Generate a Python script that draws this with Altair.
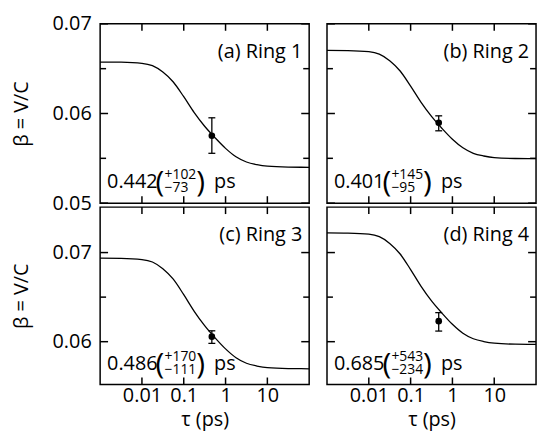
import altair as alt
import pandas as pd

FONT = "Open Sans"

# ---- data ----
tau_curve = [0.001, 0.00316, 0.01, 0.0178, 0.0316, 0.0562, 0.1, 0.178, 0.316, 0.562,
             1, 1.78, 3.16, 5.62, 10, 31.6, 100]
beta_a = [0.06574, 0.06572, 0.06560, 0.06533, 0.06462, 0.06351, 0.06187, 0.06010, 0.05858,
          0.05729, 0.05611, 0.05517, 0.05459, 0.05429, 0.05412, 0.05402, 0.05400]
beta_b = [0.06704, 0.06702, 0.06690, 0.06662, 0.06589, 0.06474, 0.06305, 0.06124, 0.05967,
          0.05834, 0.05713, 0.05617, 0.05556, 0.05526, 0.05508, 0.05498, 0.05496]
beta_c = [0.06937, 0.06935, 0.06922, 0.06894, 0.06819, 0.06701, 0.06527, 0.06341, 0.06180,
          0.06043, 0.05919, 0.05820, 0.05758, 0.05727, 0.05708, 0.05698, 0.05696]
beta_d = [0.07222, 0.07219, 0.07207, 0.07178, 0.07103, 0.06984, 0.06809, 0.06621, 0.06458,
          0.06321, 0.06195, 0.06095, 0.06033, 0.06001, 0.05983, 0.05972, 0.05970]
curves = [beta_a, beta_b, beta_c, beta_d]

tau_point = 0.47
beta_point = [0.05752, 0.05896, 0.06056, 0.06230]
beta_lo = [0.05556, 0.05807, 0.05981, 0.06119]
beta_hi = [0.05952, 0.05974, 0.06122, 0.06326]

panel_labels = ["(a) Ring 1", "(b) Ring 2", "(c) Ring 3", "(d) Ring 4"]
fit_value = ["0.442", "0.401", "0.486", "0.685"]
fit_plus = ["+102", "+145", "+170", "+543"]
fit_minus = ["\u221273", "\u221295", "\u2212111", "\u2212234"]

x_domain = [0.001, 100]
x_ticks = [0.01, 0.1, 1, 10]
y_domain_top = [0.05, 0.07]
y_domain_bottom = [0.0552, 0.0751]
y_major_top = [0.05, 0.06, 0.07]
y_minor_top = [0.055, 0.065]
y_major_bottom = [0.06, 0.07]
y_minor_bottom = [0.065]

W = 211


def make_panel(i):
    row, col = divmod(i, 2)
    H = 181 if row == 0 else 179
    ydom = y_domain_top if row == 0 else y_domain_bottom
    ymaj = y_major_top if row == 0 else y_major_bottom
    ymin = y_minor_top if row == 0 else y_minor_bottom

    if row == 1:
        x_axis = alt.Axis(values=x_ticks, format="~g", ticks=False, domain=False, grid=False,
                          labelFontSize=20, labelFont=FONT, labelPadding=1, labelColor="black",
                          title="\u03c4 (ps)", titleFontSize=20, titleFont=FONT,
                          titleFontWeight="normal", titlePadding=4, titleColor="black")
    else:
        x_axis = None
    if col == 0:
        y_axis = alt.Axis(values=ymaj, format=".2f", ticks=False, domain=False, grid=False,
                          labelFontSize=20, labelFont=FONT, labelPadding=9, labelColor="black",
                          title="\u03b2 = V/C", titleFontSize=20, titleFont=FONT,
                          titleFontWeight="normal", titlePadding=21, titleColor="black")
    else:
        y_axis = None

    def X(f):
        return alt.X(f"{f}:Q", scale=alt.Scale(type="log", domain=x_domain), axis=x_axis)

    def Y(f):
        return alt.Y(f"{f}:Q", scale=alt.Scale(domain=ydom, zero=False, nice=False), axis=y_axis)

    curve_df = pd.DataFrame({"tau": tau_curve, "beta": curves[i]})
    pt_df = pd.DataFrame({"tau": [tau_point], "beta": [beta_point[i]],
                          "lo": [beta_lo[i]], "hi": [beta_hi[i]]})
    ymaj_df = pd.DataFrame({"v": ymaj})
    ymin_df = pd.DataFrame({"v": ymin})
    xt_df = pd.DataFrame({"t": x_ticks})

    line = alt.Chart(curve_df).mark_line(color="black", strokeWidth=1.3, interpolate="monotone").encode(
        x=X("tau"), y=Y("beta"))
    err = alt.Chart(pt_df).mark_rule(color="black", strokeWidth=1.3).encode(
        x=X("tau"), y=Y("lo"), y2="hi:Q")
    cap_lo = alt.Chart(pt_df).mark_tick(orient="horizontal", color="black", size=7, thickness=1.3, opacity=1).encode(
        x=X("tau"), y=Y("lo"))
    cap_hi = alt.Chart(pt_df).mark_tick(orient="horizontal", color="black", size=7, thickness=1.3, opacity=1).encode(
        x=X("tau"), y=Y("hi"))
    dot = alt.Chart(pt_df).mark_circle(color="black", size=45, opacity=1).encode(
        x=X("tau"), y=Y("beta"))

    tick_style = dict(color="black", strokeWidth=1.5)
    left_maj = alt.Chart(ymaj_df).mark_rule(**tick_style).encode(y=Y("v"), x=alt.value(0), x2=alt.value(8))
    left_min = alt.Chart(ymin_df).mark_rule(**tick_style).encode(y=Y("v"), x=alt.value(0), x2=alt.value(6))
    right_maj = alt.Chart(ymaj_df).mark_rule(**tick_style).encode(y=Y("v"), x=alt.value(W), x2=alt.value(W - 8))
    right_min = alt.Chart(ymin_df).mark_rule(**tick_style).encode(y=Y("v"), x=alt.value(W), x2=alt.value(W - 6))
    top_t = alt.Chart(xt_df).mark_rule(**tick_style).encode(x=X("t"), y=alt.value(0), y2=alt.value(7))
    bot_t = alt.Chart(xt_df).mark_rule(**tick_style).encode(x=X("t"), y=alt.value(H), y2=alt.value(H - 7))

    def txt(s, x, y, size, align="left"):
        return alt.Chart(pd.DataFrame({"s": [s]})).mark_text(
            align=align, baseline="alphabetic", fontSize=size, font=FONT, color="black").encode(
            text="s:N", x=alt.value(x), y=alt.value(y))

    header = txt(panel_labels[i], W - 7, 34, 20, align="right")
    a_val = txt(fit_value[i], 7, H - 15, 20)
    a_lp = txt("(", 56, H - 11, 30)
    a_sup = txt(fit_plus[i], 65, H - 24, 14)
    a_sub = txt(fit_minus[i], 65, H - 11, 14)
    a_rp = txt(")", 97, H - 11, 30)
    a_ps = txt("ps", 115, H - 15, 20)

    return alt.layer(line, err, cap_lo, cap_hi, dot,
                     left_maj, left_min, right_maj, right_min, top_t, bot_t,
                     header, a_val, a_lp, a_sup, a_sub, a_rp, a_ps).properties(width=W, height=H)


chart = alt.concat(*[make_panel(i) for i in range(4)], columns=2,
                   spacing={"row": 4, "column": 18}, bounds="flush").configure_view(
    stroke="black", strokeWidth=1.5).properties(
    padding={"left": 2, "top": 3, "right": 0, "bottom": 0}, background="white")

chart.save("out.html", embed_options={"renderer": "svg", "actions": False})
